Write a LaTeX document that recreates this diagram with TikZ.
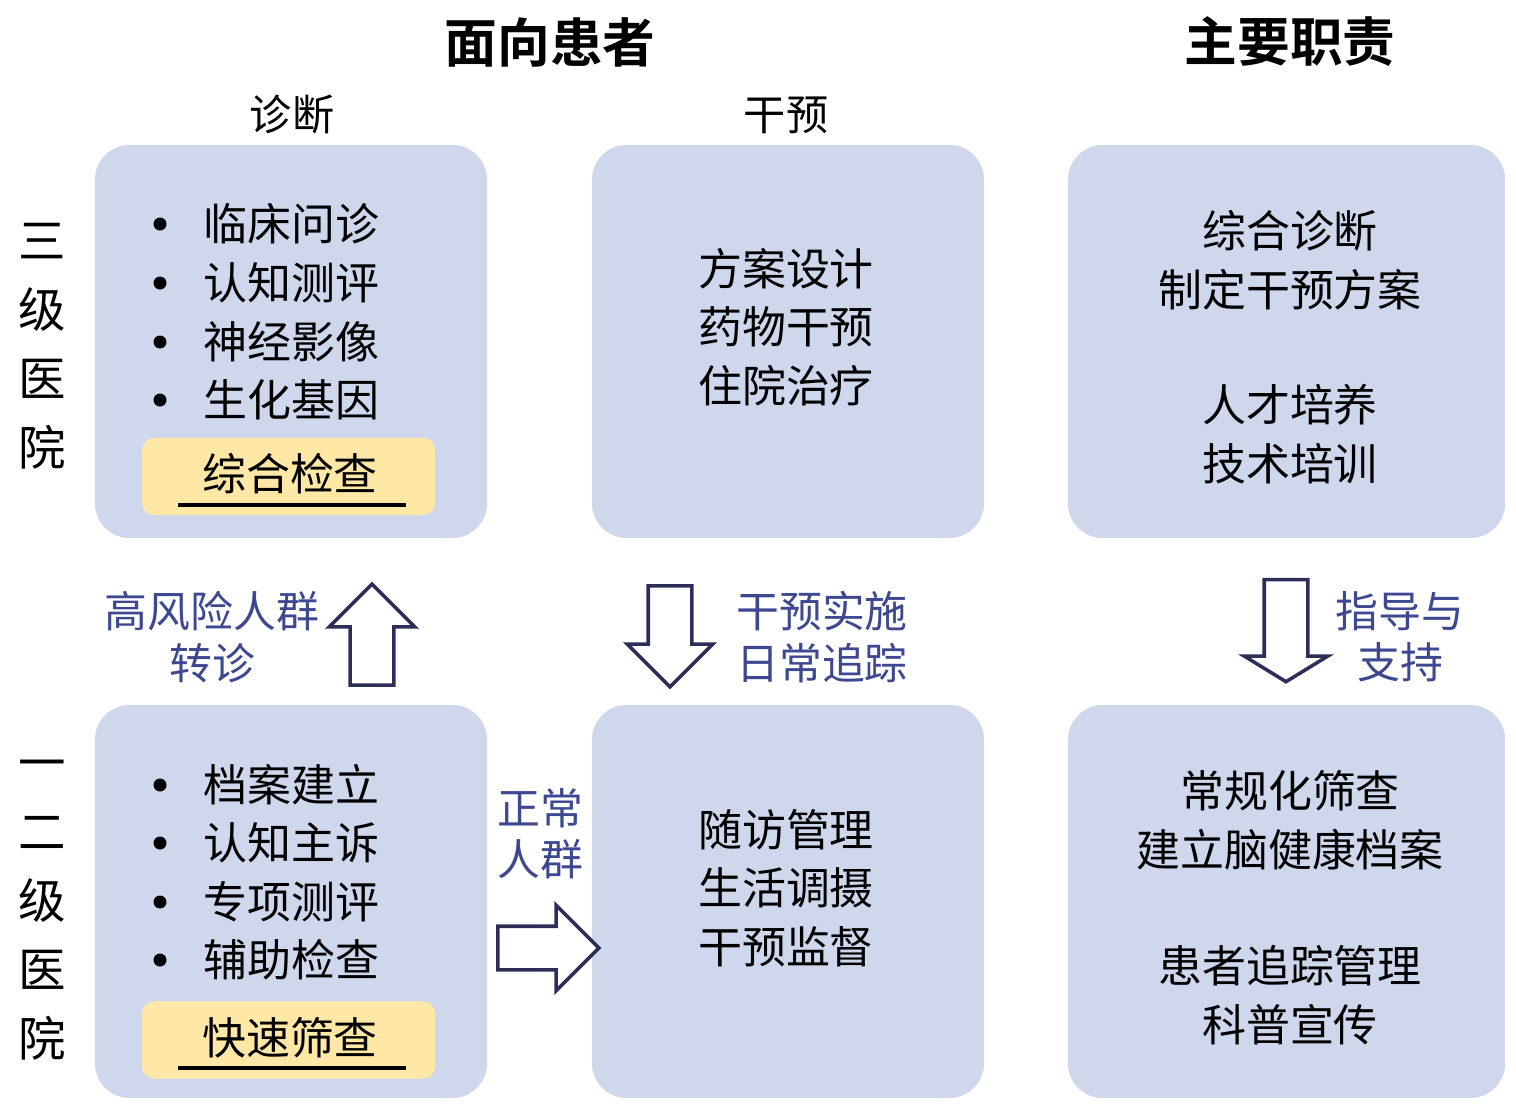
\documentclass[tikz,border=0pt]{standalone}
\usepackage{fontspec}
\setmainfont{Noto Sans CJK SC}[BoldFont={Noto Sans CJK SC Bold}]
\usetikzlibrary{shapes.arrows}
\definecolor{panelblue}{HTML}{CED7EC}
\definecolor{checkyellow}{HTML}{FFE8A6}
\definecolor{labelblue}{HTML}{3E4890}
\definecolor{arrowline}{HTML}{2C2E58}
\begin{document}
\begin{tikzpicture}[x=0.01cm,y=-0.01cm,
    panel/.style={fill=panelblue,rounded corners=0.35cm,minimum height=3.93cm,inner sep=0},
    checkbox/.style={fill=checkyellow,rounded corners=0.12cm,minimum width=2.93cm,minimum height=0.77cm,inner sep=0},
    title/.style={font=\fontsize{15}{18}\selectfont\bfseries},
    head/.style={font=\fontsize{12}{14}\selectfont},
    side/.style={font=\fontsize{13.5}{19.6}\selectfont,align=center},
    item/.style={anchor=west,inner sep=0,font=\fontsize{12.5}{15}\selectfont},
    lines/.style={align=center,font=\fontsize{12.5}{16.7}\selectfont},
    flow/.style={align=center,text=labelblue,font=\fontsize{12.2}{14.6}\selectfont},
    blockarrow/.style={single arrow,draw=arrowline,fill=white,line width=1pt,inner xsep=0,inner ysep=0.2cm,
        minimum height=1.01cm,single arrow head extend=0.21cm}]
    \useasboundingbox (0,0) rectangle (1516,1118);

    % column and row headings
    \node[title] (t1) at (550,42) {面向患者};
    \node[title] (t2) at (1290,42) {主要职责};
    \node[head] (h1) at (292,115) {诊断};
    \node[head] (h2) at (786,115) {干预};
    \node[side] (s1) at (42,346) {三\\级\\医\\院};
    \node[side] (s2) at (42,910) {一\\二\\级\\医\\院};

    % panels
    \node[panel,minimum width=3.92cm] (diag) at (291,341.5) {};
    \node[panel,minimum width=3.92cm] (intv) at (788,341.5) {};
    \node[panel,minimum width=4.37cm] (duty) at (1286.5,341.5) {};
    \node[panel,minimum width=3.92cm] (scrn) at (291,901.5) {};
    \node[panel,minimum width=3.92cm] (foll) at (788,901.5) {};
    \node[panel,minimum width=4.37cm] (task) at (1286.5,901.5) {};

    % diagnosis, top
    \fill (160,224) circle (6.5); \node[item] (a1) at (203,224) {临床问诊};
    \fill (160,283) circle (6.5); \node[item] (a2) at (203,283) {认知测评};
    \fill (160,342) circle (6.5); \node[item] (a3) at (203,342) {神经影像};
    \fill (160,400) circle (6.5); \node[item] (a4) at (203,400) {生化基因};
    \node[checkbox] (chk) at (288.5,476.5) {};
    \node[item,anchor=center] (chkt) at (290,474) {综合检查};
    \draw[line width=0.9pt] (178,505) -- (406,505);

    % diagnosis, bottom
    \fill (160,785) circle (6.5); \node[item] (b1) at (203,785) {档案建立};
    \fill (160,843) circle (6.5); \node[item] (b2) at (203,843) {认知主诉};
    \fill (160,902) circle (6.5); \node[item] (b3) at (203,902) {专项测评};
    \fill (160,960) circle (6.5); \node[item] (b4) at (203,960) {辅助检查};
    \node[checkbox] (qck) at (288.5,1040) {};
    \node[item,anchor=center] (qckt) at (290,1038) {快速筛查};
    \draw[line width=0.9pt] (178,1068) -- (406,1068);

    % intervention and duties
    \node[lines] (i1) at (786,327) {方案设计\\药物干预\\住院治疗};
    \node[lines] (i2) at (786,888) {随访管理\\生活调摄\\干预监督};
    \node[lines] (d1) at (1290,260) {综合诊断\\制定干预方案};
    \node[lines] (d2) at (1290,434) {人才培养\\技术培训};
    \node[lines] (d3) at (1290,820) {常规化筛查\\建立脑健康档案};
    \node[lines] (d4) at (1290,995) {患者追踪管理\\科普宣传};

    % arrows between rows
    \node[blockarrow,rotate=90] (up) at (372,645.5) {};
    \node[blockarrow,rotate=-90] (dn) at (670,625.5) {};
    \node[blockarrow,rotate=-90,minimum height=1.02cm,
        single arrow head extend=0.2cm,single arrow tip angle=117] (dn2) at (1286,624) {};
    \node[blockarrow] (rt) at (537.5,948) {};

    \node[flow] (f1) at (212,637) {高风险人群\\转诊};
    \node[flow] (f2) at (822,637) {干预实施\\日常追踪};
    \node[flow] (f3) at (1400,637) {指导与\\支持};
    \node[flow] (f4) at (540,834) {正常\\人群};

\end{tikzpicture}
\end{document}
